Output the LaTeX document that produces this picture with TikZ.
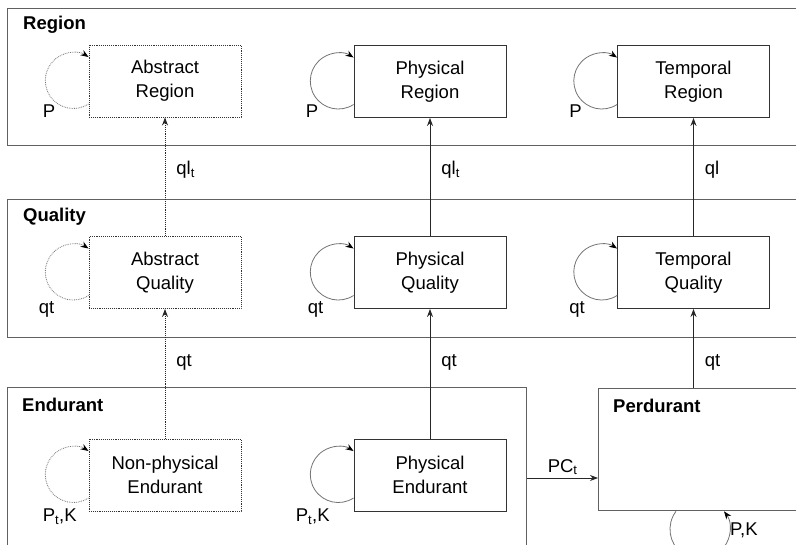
\documentclass[tikz,border=0pt]{standalone}
\usepackage{fontspec}
\setmainfont{Liberation Sans}
\usetikzlibrary{arrows.meta}
\begin{document}
\begin{tikzpicture}[x=1pt,y=-1pt,
  font=\fontsize{18.5}{24}\selectfont,
  container/.style={draw=black!62, line width=1.3pt, anchor=north west, inner sep=0pt},
  concept/.style={draw=black!80, line width=0.9pt, minimum width=152pt, minimum height=72pt,
    align=center, inner sep=0pt, text width=150pt},
  abstractc/.style={concept, densely dotted},
  heading/.style={font=\fontsize{18.5}{24}\selectfont\bfseries, anchor=base west, inner sep=0pt},
  rel/.style={-{Stealth[length=8pt,width=6pt]}, line width=0.9pt, draw=black!85},
  selfloop/.style={draw=black!55, line width=0.8pt, -{Stealth[length=8pt,width=6pt,black]}},
  lbl/.style={anchor=base west, inner sep=0pt}]
\path[use as bounding box] (0,0) rectangle (796,545);
\clip (0,0) rectangle (796,545);

% containers
\node[container, minimum width=830pt, minimum height=137pt] (regbox) at (7,8) {};
\node[container, minimum width=830pt, minimum height=138pt] (qualbox) at (7,199) {};
\node[container, minimum width=519pt, minimum height=200pt] (endbox) at (7,387) {};
\node[container, minimum width=260pt, minimum height=122pt] (perd) at (598,388) {};

\node[heading] (hreg) at (23,30) {Region};
\node[heading] (hqual) at (23,222) {Quality};
\node[heading] (hend) at (22,412) {Endurant};
\node[heading] (hperd) at (613,413) {Perdurant};

% concepts
\node[abstractc] (ar) at (165,81) {Abstract\\Region};
\node[concept] (pr) at (430,81.5) {Physical\\Region};
\node[concept] (tr) at (693.5,81.5) {Temporal\\Region};
\node[abstractc] (aq) at (165,272.5) {Abstract\\Quality};
\node[concept] (pq) at (430,272.5) {Physical\\Quality};
\node[concept] (tq) at (693.5,272.5) {Temporal\\Quality};
\node[abstractc] (ne) at (165,475) {Non-physical\\Endurant};
\node[concept] (pe) at (430,475) {Physical\\Endurant};

% vertical relations
\draw[rel, densely dotted] (aq.north) -- node[lbl, pos=0.517, xshift=11pt] (l1) {ql\textsubscript{t}} (ar.south);
\draw[rel] (pq.north) -- node[lbl, pos=0.517, xshift=11pt] (l2) {ql\textsubscript{t}} (pr.south);
\draw[rel] (tq.north) -- node[lbl, pos=0.517, xshift=11pt] (l3) {ql} (tr.south);
\draw[rel, densely dotted] (ne.north) -- node[lbl, pos=0.557, xshift=11pt] (l4) {qt} (aq.south);
\draw[rel] (pe.north) -- node[lbl, pos=0.557, xshift=11pt] (l5) {qt} (pq.south);
\draw[rel] (perd.north -| tq.south) -- node[lbl, pos=0.275, xshift=11pt] (l6) {qt} (tq.south);

% PC_t
\coordinate (pcy) at (560,478);
\draw[rel] (pcy -| endbox.east) -- node[anchor=base, inner sep=0pt, yshift=6pt] (l7) {PC\textsubscript{t}} (pcy -| perd.west);

% self loops
\foreach \n/\d in {ar/densely dotted, pr/solid, tr/solid, aq/densely dotted, pq/solid, tq/solid, ne/densely dotted, pe/solid}{
  \draw[selfloop, \d] ([yshift=-23pt]\n.west) arc[start angle=-57, end angle=-303, radius=28pt];
}
\draw[selfloop] ([xshift=78pt]perd.south west) arc[start angle=143.13, end angle=396.87, radius=30pt];

% loop labels
\node[lbl] (s1) at ([xshift=-46pt]ar.south west) {P};
\node[lbl] (s2) at ([xshift=-48pt]pr.south west) {P};
\node[lbl] (s3) at ([xshift=-48pt]tr.south west) {P};
\node[lbl] (s4) at ([xshift=-50pt,yshift=-5pt]aq.south west) {qt};
\node[lbl] (s5) at ([xshift=-46pt,yshift=-5pt]pq.south west) {qt};
\node[lbl] (s6) at ([xshift=-48pt,yshift=-5pt]tq.south west) {qt};
\node[lbl] (s7) at ([xshift=-46pt,yshift=-10pt]ne.south west) {P\textsubscript{t},K};
\node[lbl] (s8) at ([xshift=-58pt,yshift=-10pt]pe.south west) {P\textsubscript{t},K};
\node[lbl] (s9) at (730,536) {P,K};
\end{tikzpicture}
\end{document}
